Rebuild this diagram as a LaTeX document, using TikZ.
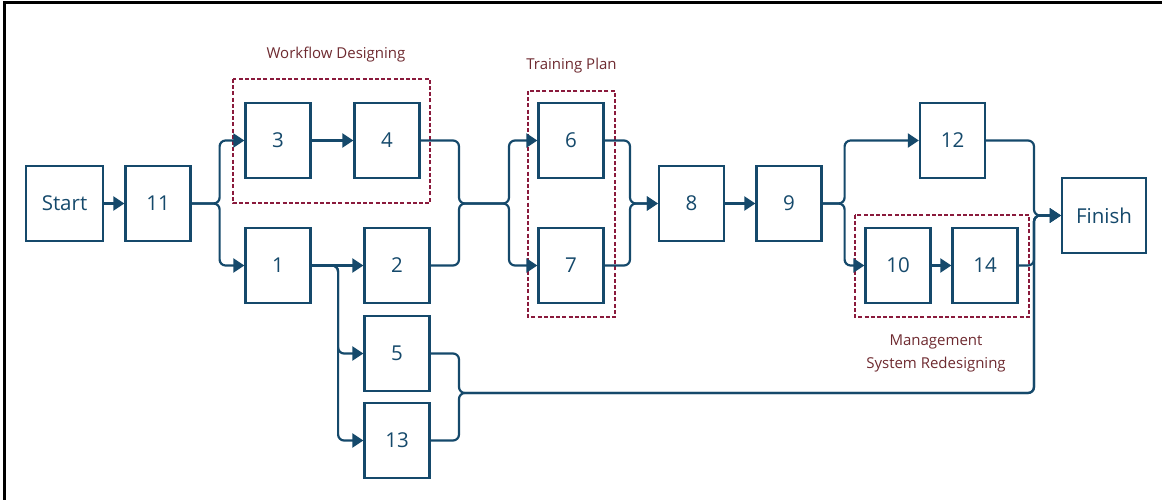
\documentclass[tikz,border=0pt]{standalone}
\usepackage{fontspec}
\setmainfont{Open Sans}
\usetikzlibrary{arrows.meta}
\definecolor{navy}{HTML}{15496B}
\definecolor{grp}{HTML}{8A1A3C}
\definecolor{lbl}{HTML}{6E2A30}
\tikzset{
  stepbox/.style={draw=navy, line width=2.2pt, text=navy, minimum width=65pt, minimum height=75pt, inner sep=0pt, font=\fontsize{20.5}{24}\selectfont},
  conn/.style={draw=navy, line width=2.2pt, rounded corners=6pt},
  arr/.style={conn, -{Triangle[length=11pt,width=14pt]}},
  grpbox/.style={draw=grp, line width=1.8pt, dash pattern=on 4pt off 2.2pt},
  grplabel/.style={text=lbl, font=\fontsize{15}{23}\selectfont, align=center},
}
\begin{document}
\begin{tikzpicture}[x=1pt,y=-1pt]
\useasboundingbox (0,0) rectangle (1162,500);
\draw[black, line width=3pt] (4.5,500) -- (4.5,3) -- (1162,3);

% group frames
\draw[grpbox] (233,79) rectangle (430,203);
\draw[grpbox] (528,91) rectangle (615,317);
\draw[grpbox] (855,215) rectangle (1029,317);
\node[grplabel] (lwd) at (336,55) {Workflow Designing};
\node[grplabel] (ltp) at (571.5,66) {Training Plan};
\node[grplabel] (lms) at (936,353.5) {Management\\System Redesigning};

% nodes
\node[stepbox, minimum width=77pt] (nS) at (64.5,203.5) {Start};
\node[stepbox] (n11) at (158,203.5) {11};
\node[stepbox] (n3) at (278,140.5) {3};
\node[stepbox] (n4) at (387,140.5) {4};
\node[stepbox] (n1) at (278,265.5) {1};
\node[stepbox] (n2) at (397,265.5) {2};
\node[stepbox] (n5) at (397,353.5) {5};
\node[stepbox] (n13) at (397,440.5) {13};
\node[stepbox] (n6) at (571,140.5) {6};
\node[stepbox] (n7) at (571,265.5) {7};
\node[stepbox] (n8) at (691.5,203.5) {8};
\node[stepbox] (n9) at (789,203.5) {9};
\node[stepbox] (n12) at (952.5,140.5) {12};
\node[stepbox] (n10) at (898,265.5) {10};
\node[stepbox] (n14) at (985,265.5) {14};
\node[stepbox, minimum width=84pt] (nF) at (1104,215.5) {Finish};

% junctions
\coordinate (j1) at (459,203.5);
\coordinate (j2) at (509,203.5);
\coordinate (j3) at (630,203.5);
\coordinate (j4) at (1034,215.5);
\coordinate (j5) at (459,393);

% connectors
\draw[arr] (nS) -- (n11);
\draw[arr] (n11.east) -- ++(28,0) |- (n3.west);
\draw[arr] (n11.east) -- ++(28,0) |- (n1.west);
\draw[arr] (n3) -- (n4);
\draw[arr] (n1) -- (n2);
\draw[arr] (n1.east) -- ++(26.5,0) |- (n5.west);
\draw[arr] (n1.east) -- ++(26.5,0) |- (n13.west);
\draw[arr] (n4.east) -| (j1) -- (j2) |- (n6.west);
\draw[arr] (n2.east) -| (j1) -- (j2) |- (n7.west);
\draw[arr] (n6.east) -| (j3) -- (n8.west);
\draw[arr] (n7.east) -| (j3) -- (n8.west);
\draw[arr] (n8) -- (n9);
\draw[arr] (n9.east) -- ++(22,0) |- (n12.west);
\draw[arr] (n9.east) -- ++(22,0) |- (n10.west);
\draw[arr] (n10) -- (n14);
\draw[arr] (n12.east) -| (j4) -- (nF.west);
\draw[arr] (n14.east) -| (j4) -- (nF.west);
\draw[arr] (n5.east) -| (j5) -| (j4) -- (nF.west);
\draw[arr] (n13.east) -| (j5) -| (j4) -- (nF.west);
\end{tikzpicture}
\end{document}
